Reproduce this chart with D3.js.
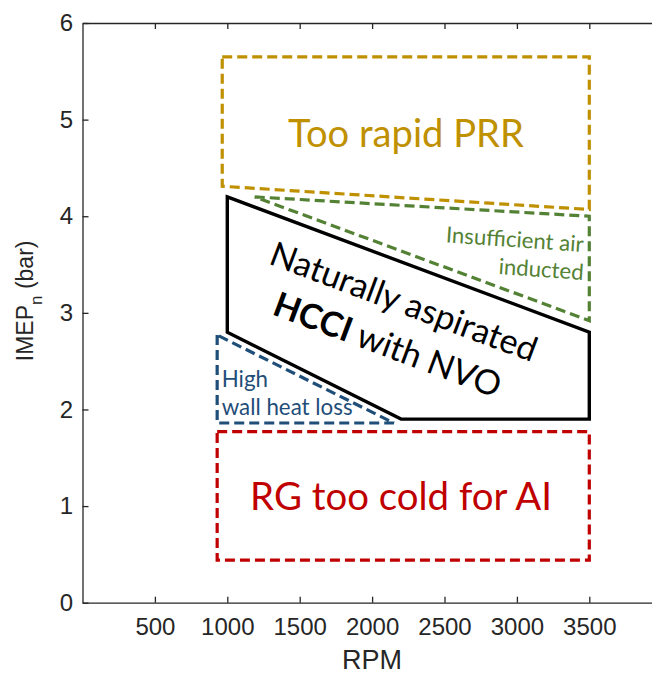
<!DOCTYPE html>
<html>
<head>
<meta charset="utf-8">
<script src="https://cdn.jsdelivr.net/npm/d3@7"></script>
<style>
  body { margin: 0; background: #fff; }
</style>
</head>
<body>
<div id="chart"></div>
<script>
// axis ticks
const xTicks = [500, 1000, 1500, 2000, 2500, 3000, 3500];
const yTicks = [0, 1, 2, 3, 4, 5, 6];

// operating-map regions, [RPM, IMEPn bar]
const prrZone  = [[965, 5.65], [3500, 5.65], [3500, 4.07], [965, 4.31]];
const airZone  = [[1190, 4.2], [3500, 4.0], [3500, 2.92]];
const hcciZone = [[1000, 4.2], [3500, 2.8], [3500, 1.9], [2200, 1.9], [1000, 2.8]];
const wallZone = [[930, 2.77], [930, 1.86], [2150, 1.86]];
const coldZone = [[930, 1.77], [3500, 1.77], [3500, 0.44], [930, 0.44]];

// annotation anchors [RPM, IMEPn]
const prrText  = ["Too rapid PRR", 2234, 4.72];
const coldText = ["RG too cold for AI", 2200, 0.96];
const airText  = [["Insufficient air", 3457, 3.63], ["inducted", 3457, 3.34]];
const wallText = [["High", 961, 2.236], ["wall heat loss", 961, 1.943]];
const hcciText = [2134, 2.776];

const colors = { prr: "#BF9000", air: "#548235", wall: "#1F4E79", cold: "#C00000",
                 hcci: "#000", axis: "#262626" };

const width = 652, height = 675;
const margin = { left: 82.5, top: 23, bottom: 72.3 };
const plotH = height - margin.top - margin.bottom;

const x = d3.scaleLinear().domain([0, 4000]).range([margin.left, margin.left + 4000 * 0.1448]);
const y = d3.scaleLinear().domain([0, 6]).range([margin.top + plotH, margin.top]);

const svg = d3.select("#chart").append("svg")
    .attr("width", width).attr("height", height);

const annFont = "Lato, 'Open Sans', sans-serif";
const axFont = "'Liberation Sans', Arial, sans-serif";

// axes, MATLAB style with inward ticks
const styleAxis = g => {
  g.attr("font-size", 24).attr("font-family", axFont);
  g.selectAll("path.domain").attr("stroke", colors.axis).attr("stroke-width", 1.3).attr("fill", "none");
  g.selectAll(".tick line").attr("stroke", colors.axis).attr("stroke-width", 1.3);
  g.selectAll(".tick text").attr("fill", colors.axis);
};

const fmt = d3.format("d");

svg.append("g").attr("transform", `translate(0,${y(0)})`)
  .call(d3.axisBottom(x).tickValues(xTicks).tickFormat(fmt)
    .tickSizeInner(-6).tickSizeOuter(0).tickPadding(15))
  .call(styleAxis);

svg.append("g").attr("transform", `translate(0,${y(6)})`)
  .call(d3.axisTop(x).tickValues(xTicks).tickSizeInner(-6).tickSizeOuter(0).tickFormat(""))
  .call(styleAxis);

svg.append("g").attr("transform", `translate(${x(0)},0)`)
  .call(d3.axisLeft(y).tickValues(yTicks).tickFormat(fmt)
    .tickSizeInner(-6).tickSizeOuter(0).tickPadding(9.5))
  .call(styleAxis);

// axis titles
svg.append("text")
  .attr("x", x(2000)).attr("y", 669)
  .attr("text-anchor", "middle")
  .attr("font-family", axFont).attr("font-size", 27)
  .attr("fill", colors.axis)
  .text("RPM");

const yl = svg.append("text")
  .attr("transform", `translate(33,${y(3) - 12}) rotate(-90)`)
  .attr("text-anchor", "middle")
  .attr("font-family", axFont)
  .attr("fill", colors.axis);
yl.append("tspan").attr("font-size", 23).text("IMEP");
yl.append("tspan").attr("font-size", 17).attr("dy", 9).text("n");
yl.append("tspan").attr("font-size", 23).attr("dy", -9).text("\u00a0(bar)");

// regions
const line = d3.line().x(d => x(d[0])).y(d => y(d[1]));
const zone = (pts, col, dashed, w) => svg.append("path")
  .attr("d", line(pts) + "Z")
  .attr("fill", "none")
  .attr("stroke", col)
  .attr("stroke-width", w)
  .attr("stroke-dasharray", dashed ? "10,5" : null)
  .attr("stroke-linejoin", "miter");

zone(prrZone, colors.prr, true, 3.2);
zone(airZone, colors.air, true, 3.2);
zone(wallZone, colors.wall, true, 3.2);
zone(coldZone, colors.cold, true, 3.2);
zone(hcciZone, colors.hcci, false, 3.4);

// scale a text so it spans a given pixel width
const fit = (sel, w) => {
  const len = sel.node().getComputedTextLength();
  const fs = parseFloat(sel.attr("font-size"));
  const nfs = fs * w / len;
  sel.attr("font-size", nfs);
  return nfs;
};

const label = (t, col, anchor) => svg.append("text")
  .attr("x", x(t[1])).attr("y", y(t[2]))
  .attr("text-anchor", anchor)
  .attr("font-family", annFont).attr("font-size", 30)
  .attr("fill", col)
  .text(t[0]);

fit(label(prrText, colors.prr, "middle"), 236);
fit(label(coldText, colors.cold, "middle"), 302);

// green labels, slightly tilted
const airSel = airText.map(t => label(t, colors.air, "end")
  .attr("transform", `rotate(4,${x(t[1])},${y(t[2])})`));
const airFs = fit(airSel[0], 138);
airSel[1].attr("font-size", airFs);

const wallSel = wallText.map(t => label(t, colors.wall, "start"));
const wallFs = fit(wallSel[1], 131);
wallSel[0].attr("font-size", wallFs);

// main region label, rotated along the upper edge
const hg = svg.append("g")
  .attr("transform", `translate(${x(hcciText[0])},${y(hcciText[1])}) rotate(20.5)`);
const l1 = hg.append("text").attr("y", -23)
  .attr("text-anchor", "middle")
  .attr("font-family", annFont).attr("font-size", 30)
  .attr("fill", colors.hcci)
  .text("Naturally aspirated");
const mainFs = fit(l1, 282);
const l2 = hg.append("text").attr("y", 23)
  .attr("text-anchor", "middle")
  .attr("font-family", annFont).attr("font-size", mainFs)
  .attr("fill", colors.hcci);
l2.append("tspan").attr("font-weight", "bold").text("HCCI");
l2.append("tspan").text(" with NVO");
</script>
</body>
</html>
